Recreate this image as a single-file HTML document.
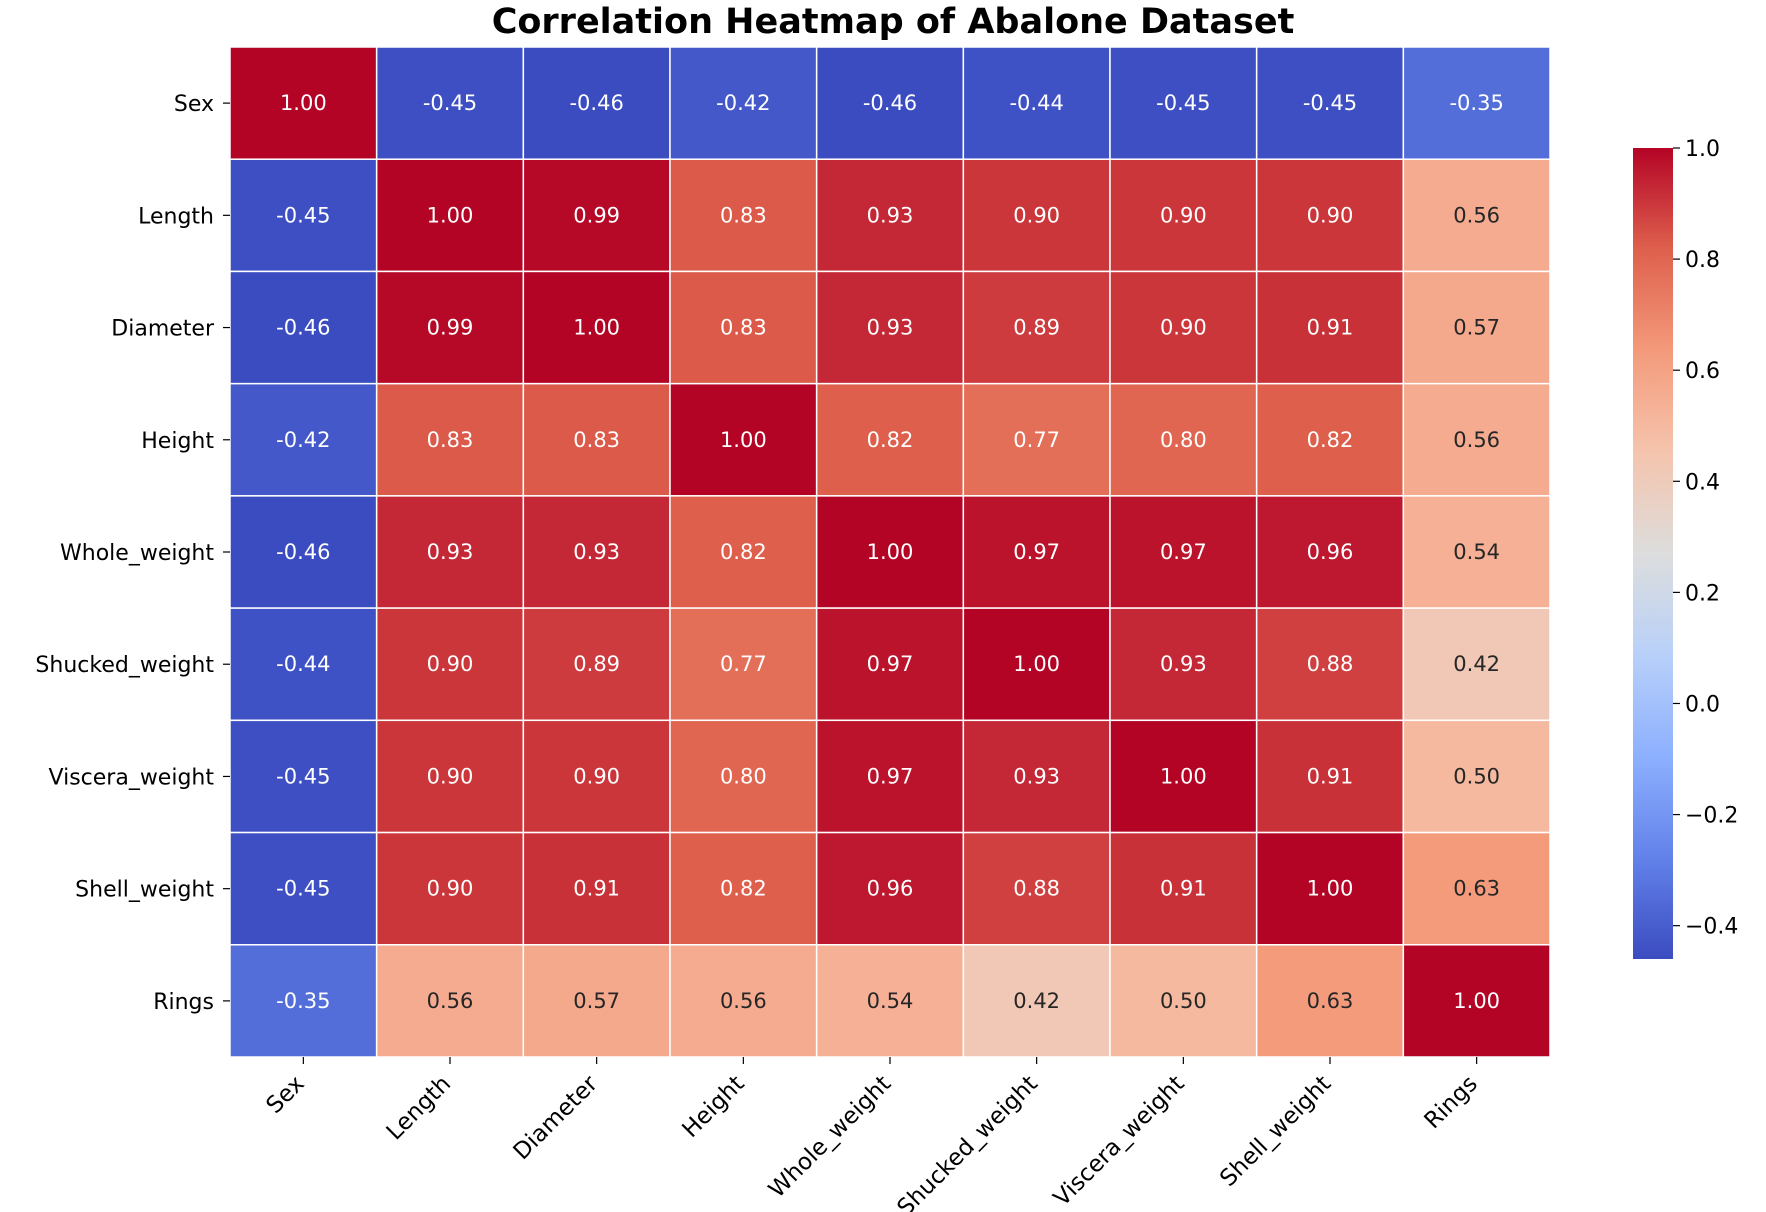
<!DOCTYPE html>
<html><head><meta charset="utf-8"><style>
html,body{margin:0;padding:0;background:#fff;}
svg{display:block;font-family:"DejaVu Sans","Liberation Sans",sans-serif;}
</style></head><body>
<svg id="chart" width="1766" height="1212" viewBox="0 0 1766 1212" xmlns="http://www.w3.org/2000/svg">
<text x="893" y="33" text-anchor="middle" font-size="35" font-weight="bold">Correlation Heatmap of Abalone Dataset</text>
<g id="cells"></g>
<g id="ylabels"></g>
<g id="xlabels"></g>
<defs><linearGradient id="cbgrad" x1="0" y1="1" x2="0" y2="0"></linearGradient></defs>
<g id="cbar"></g>
</svg>
<script>
const categories = ["Sex","Length","Diameter","Height","Whole_weight","Shucked_weight","Viscera_weight","Shell_weight","Rings"];
const row0 = [1.00,-0.45,-0.46,-0.42,-0.46,-0.44,-0.45,-0.45,-0.35];
const row1 = [-0.45,1.00,0.99,0.83,0.93,0.90,0.90,0.90,0.56];
const row2 = [-0.46,0.99,1.00,0.83,0.93,0.89,0.90,0.91,0.57];
const row3 = [-0.42,0.83,0.83,1.00,0.82,0.77,0.80,0.82,0.56];
const row4 = [-0.46,0.93,0.93,0.82,1.00,0.97,0.97,0.96,0.54];
const row5 = [-0.44,0.90,0.89,0.77,0.97,1.00,0.93,0.88,0.42];
const row6 = [-0.45,0.90,0.90,0.80,0.97,0.93,1.00,0.91,0.50];
const row7 = [-0.45,0.90,0.91,0.82,0.96,0.88,0.91,1.00,0.63];
const row8 = [-0.35,0.56,0.57,0.56,0.54,0.42,0.50,0.63,1.00];
const matrix = [row0,row1,row2,row3,row4,row5,row6,row7,row8];
const cbTicks = [-0.4,-0.2,0.0,0.2,0.4,0.6,0.8,1.0];

const NS="http://www.w3.org/2000/svg";
const X0=230,X1=1550,Y0=47,Y1=1057;
const n=categories.length;
const cw=(X1-X0)/n, ch=(Y1-Y0)/n;
const vmin=Math.min(...matrix.flat()), vmax=Math.max(...matrix.flat());
const stops=[[59,76,192],[98,130,234],[141,176,254],[184,208,249],[221,221,221],[245,196,173],[244,154,123],[222,96,77],[180,4,38]];
function cmap(t){t=Math.max(0,Math.min(1,t));const p=t*8,i=Math.min(7,Math.floor(p)),f=p-i;
 return stops[i].map((c,k)=>Math.round(c+(stops[i+1][k]-c)*f));}
function xs(i){return X0+i*cw;} function ys(j){return Y0+j*ch;}
function mk(tag,attrs,parent){const e=document.createElementNS(NS,tag);for(const k in attrs)e.setAttribute(k,attrs[k]);parent.appendChild(e);return e;}
function lum(c){const l=c.map(v=>{v/=255;return v<=0.03928?v/12.92:Math.pow((v+0.055)/1.055,2.4)});return 0.2126*l[0]+0.7152*l[1]+0.0722*l[2];}
const cells=document.getElementById('cells');
matrix.forEach((row,j)=>row.forEach((v,i)=>{
 const c=cmap((v-vmin)/(vmax-vmin));
 const r=mk('rect',{x:xs(i),y:ys(j),width:cw,height:ch,fill:`rgb(${c})`,stroke:'#fff','stroke-width':1.5},cells);
 
 
 const t=mk('text',{x:xs(i)+cw/2,y:ys(j)+ch/2+7,'text-anchor':'middle','font-size':21,fill:lum(c)>0.408?'#262626':'#fff'},cells);
 t.textContent=v.toFixed(2);
 
 
}));
const yl=document.getElementById('ylabels'),xl=document.getElementById('xlabels');
categories.forEach((c,j)=>{
 const y=ys(j)+ch/2;
 mk('line',{x1:X0-7,x2:X0,y1:y,y2:y,stroke:'#000','stroke-width':1.2},yl);
 const t=mk('text',{x:X0-16,y:y+8,'text-anchor':'end','font-size':22},yl);
 t.textContent=c;
 
 
 const x=xs(j)+cw/2;
 mk('line',{x1:x,x2:x,y1:Y1,y2:Y1+7,stroke:'#000','stroke-width':1.2},xl);
 const tx=x+2,ty=Y1+28;
 const u=mk('text',{x:tx,y:ty,'text-anchor':'end','font-size':23,transform:`rotate(-45 ${tx} ${ty})`},xl);
 u.textContent=c;
 
 
});
const CB_X=1633,CB_W=40,CB_T=148,CB_B=959;
const grad=document.getElementById('cbgrad');
for(let k=0;k<=16;k++){const c=cmap(k/16);mk('stop',{offset:(k/16),'stop-color':`rgb(${c})`},grad);}
const cb=document.getElementById('cbar');
mk('rect',{x:CB_X,y:CB_T,width:CB_W,height:CB_B-CB_T,fill:'url(#cbgrad)'},cb);
function cy(v){return CB_B-(v-vmin)/(vmax-vmin)*(CB_B-CB_T);}
cbTicks.forEach(v=>{
 const y=cy(v);
 mk('line',{x1:CB_X+CB_W,x2:CB_X+CB_W+7,y1:y,y2:y,stroke:'#000','stroke-width':1.2},cb);
 const t=mk('text',{x:CB_X+CB_W+12,y:y+8,'font-size':22},cb);
 t.textContent=(v<0?'\u2212':'')+Math.abs(v).toFixed(1);
 
 
});
</script>
</body></html>
